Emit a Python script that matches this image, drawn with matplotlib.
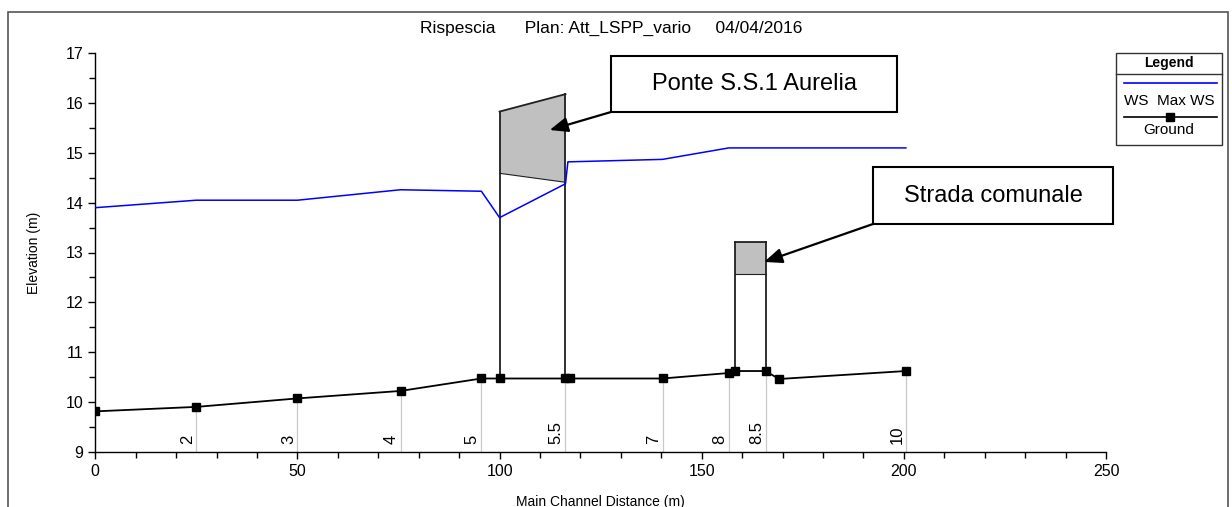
import numpy as np
import matplotlib
matplotlib.use("Agg")
import matplotlib.pyplot as plt
from matplotlib.patches import Rectangle, Polygon
from matplotlib.lines import Line2D
from matplotlib.ticker import MultipleLocator

plt.rcParams['font.family'] = ['Liberation Sans']

# main channel profile
ground_x = [0, 25, 50, 75.5, 95.5, 100, 116.3, 117.5, 140.3, 156.7, 158.2, 165.8, 169.1, 200.5]
ground_z = [9.81, 9.90, 10.07, 10.22, 10.47, 10.47, 10.47, 10.47, 10.47, 10.58, 10.62, 10.62, 10.46, 10.62]

ws_x = [0, 25, 50, 75.5, 95.5, 100, 116.3, 116.9, 140.3, 156.7, 200.5]
ws_z = [13.90, 14.05, 14.05, 14.26, 14.23, 13.70, 14.38, 14.82, 14.87, 15.10, 15.10]

stations = ['2', '3', '4', '5', '5.5', '7', '8', '8.5', '10']
station_x = [25, 50, 75.5, 95.5, 116.3, 140.3, 156.7, 165.8, 200.5]

# bridge deck (upstream / downstream faces)
bridge_x = [100, 116.3]
bridge_top = [15.83, 16.18]
bridge_low = [14.59, 14.41]

# road culvert
culv_x = [158.2, 165.8]
culv_top = [13.22, 13.22]
culv_low = [12.56, 12.56]

W, H = 1232, 507
fig = plt.figure(figsize=(W / 100, H / 100), dpi=100)

def fx(px):
    return px / W

def fy(py):
    return 1 - py / H

ax = fig.add_axes([fx(95.3), fy(451.7), fx(1106) - fx(95.3), fy(53.3) - fy(451.7)])

# outer frame
fig.patches.append(Rectangle((fx(7.5), fy(520)), fx(1228) - fx(7.5), fy(12) - fy(520),
                             transform=fig.transFigure, fill=False, ec='#555555', lw=1.2))

ax.set_xlim(0, 250)
ax.set_ylim(9, 17)

# station marker lines and labels
for lab, sx in zip(stations, station_x):
    gz = np.interp(sx, ground_x, ground_z)
    ax.plot([sx, sx], [9, gz], color='#c8c8c8', lw=0.9, zorder=1)
    ax.text(sx - 0.4, 9.15, lab, rotation=90, ha='right', va='bottom', fontsize=12)

# bridge
poly = [(bridge_x[0], bridge_low[0]), (bridge_x[0], bridge_top[0]),
        (bridge_x[1], bridge_top[1]), (bridge_x[1], bridge_low[1])]
ax.add_patch(Polygon(poly, closed=True, fc='#c0c0c0', ec='none', zorder=2))
ax.plot(bridge_x, bridge_top, color='#202020', lw=1.3, zorder=3)
ax.plot(bridge_x, bridge_low, color='#202020', lw=0.8, zorder=3)
for i in range(2):
    gz = np.interp(bridge_x[i], ground_x, ground_z)
    ax.plot([bridge_x[i], bridge_x[i]], [gz, bridge_top[i]], color='#202020', lw=1.3, zorder=3)

# culvert
ax.fill_between(culv_x, culv_low, culv_top, color='#c0c0c0', lw=0, zorder=2)
ax.plot(culv_x, culv_top, color='#202020', lw=1.3, zorder=3)
ax.plot(culv_x, culv_low, color='#202020', lw=0.8, zorder=3)
for i in range(2):
    gz = np.interp(culv_x[i], ground_x, ground_z)
    ax.plot([culv_x[i], culv_x[i]], [gz, culv_top[i]], color='#202020', lw=1.3, zorder=3)

# water surface and ground
ax.plot(ws_x, ws_z, color='#0000ff', lw=1.1, zorder=4)
ax.plot(ground_x, ground_z, color='black', lw=1.3, marker='s', ms=5.5, zorder=5)

# axes styling
for s in ['top', 'right']:
    ax.spines[s].set_visible(False)
ax.spines['left'].set_linewidth(1.0)
ax.spines['bottom'].set_linewidth(1.0)
ax.xaxis.set_major_locator(MultipleLocator(50))
ax.xaxis.set_minor_locator(MultipleLocator(10))
ax.yaxis.set_major_locator(MultipleLocator(1))
ax.yaxis.set_minor_locator(MultipleLocator(0.5))
ax.tick_params(which='major', length=5, width=1.0, labelsize=11.5, direction='out')
ax.tick_params(which='minor', length=4, width=1.0, direction='out')
ax.set_xlabel('Main Channel Distance (m)', fontsize=10, labelpad=12)
ax.set_ylabel('Elevation (m)', fontsize=10, labelpad=18)

fig.text(fx(611), fy(28), 'Rispescia      Plan: Att_LSPP_vario     04/04/2016',
         ha='center', va='center', fontsize=12.5)

# callout boxes
def callout(x0, y0, x1, y1, text, tip):
    fig.patches.append(Rectangle((fx(x0), fy(y1)), fx(x1) - fx(x0), fy(y0) - fy(y1),
                                 transform=fig.transFigure, fc='white', ec='black', lw=1.5, zorder=6))
    fig.text(fx((x0 + x1) / 2), fy((y0 + y1) / 2), text, ha='center', va='center',
             fontsize=17, zorder=7)
    ax.annotate('', xy=tip, xycoords='data', xytext=(fx(x0), fy(y1)),
                textcoords='figure fraction', annotation_clip=False,
                arrowprops=dict(arrowstyle='-|>,head_length=1.1,head_width=0.45',
                                color='black', lw=1.6, shrinkA=0, shrinkB=0))

callout(611, 56, 897, 112, 'Ponte S.S.1 Aurelia', (112.4, 15.46))
callout(873, 167, 1113, 224, 'Strada comunale', (165.4, 12.81))

# legend panel
lx0, lx1, ly0, ly1 = 1116, 1222, 53, 145
fig.patches.append(Rectangle((fx(lx0), fy(ly1)), fx(lx1) - fx(lx0), fy(ly0) - fy(ly1),
                             transform=fig.transFigure, fc='white', ec='#333333', lw=1.0))
fig.lines.append(Line2D([fx(lx0), fx(lx1)], [fy(74), fy(74)], transform=fig.transFigure,
                        color='#333333', lw=1.0))
fig.text(fx((lx0 + lx1) / 2), fy(63), 'Legend', ha='center', va='center',
         fontsize=10, fontweight='bold')
fig.lines.append(Line2D([fx(1124), fx(1217)], [fy(83), fy(83)], transform=fig.transFigure,
                        color='#0000ff', lw=1.2))
fig.text(fx((lx0 + lx1) / 2), fy(101), 'WS  Max WS', ha='center', va='center', fontsize=11)
fig.lines.append(Line2D([fx(1124), fx(1217)], [fy(117), fy(117)], transform=fig.transFigure,
                        color='black', lw=1.2))
fig.lines.append(Line2D([fx(1170)], [fy(117)], transform=fig.transFigure,
                        color='black', marker='s', ms=5.5))
fig.text(fx((lx0 + lx1) / 2), fy(130), 'Ground', ha='center', va='center', fontsize=11)

fig.savefig('out.png', dpi=100)
